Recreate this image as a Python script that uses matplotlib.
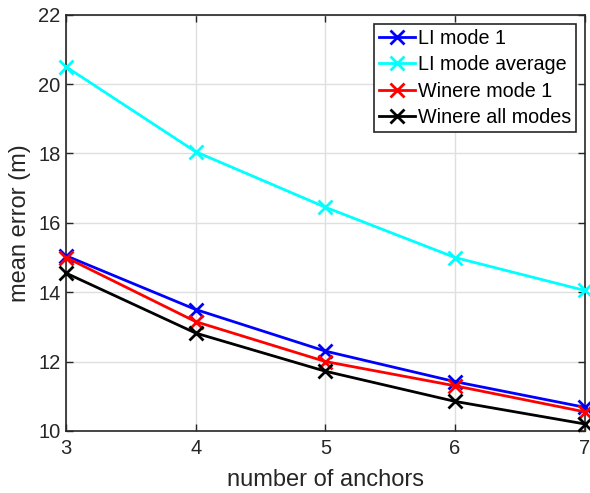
import numpy as np
import matplotlib
matplotlib.use('Agg')
import matplotlib.pyplot as plt

plt.rcParams['font.family'] = ['Liberation Sans', 'DejaVu Sans']

# data
anchors = [3, 4, 5, 6, 7]
li_mode1 = [15.05, 13.5, 12.3, 11.42, 10.68]
li_mode_avg = [20.5, 18.05, 16.45, 15.0, 14.05]
winere_mode1 = [15.0, 13.15, 12.0, 11.3, 10.55]
winere_all = [14.55, 12.82, 11.72, 10.85, 10.2]

series = [
    (li_mode1, 'LI mode 1', '#0000ff'),
    (li_mode_avg, 'LI mode average', '#00ffff'),
    (winere_mode1, 'Winere mode 1', '#ff0000'),
    (winere_all, 'Winere all modes', '#000000'),
]

fig = plt.figure(figsize=(5.9, 4.93), dpi=100)
ax = fig.add_axes([0.112, 0.126, 0.879, 0.844])

for vals, label, col in series:
    ax.plot(anchors, vals, color=col, lw=2, marker='x', ms=10, mew=2, label=label,
            clip_on=False, zorder=3)

ax.set_xlim(3, 7)
ax.set_ylim(10, 22)
ax.set_xticks(anchors)
ax.set_yticks(np.arange(10, 23, 2))
ax.grid(True, color='#dfdfdf', lw=1)
ax.set_axisbelow(True)
ax.tick_params(direction='in', length=5, width=1, labelsize=14.5, colors='#262626',
               top=True, right=True)
ax.tick_params(axis='x', pad=6)
ax.tick_params(axis='y', pad=4)
for sp in ax.spines.values():
    sp.set_color('#262626')
    sp.set_linewidth(1.2)

ax.set_xlabel('number of anchors', fontsize=17, color='#262626', labelpad=8)
ax.set_ylabel('mean error (m)', fontsize=17, color='#262626', labelpad=5)

leg = ax.legend(loc='upper right', fontsize=14.2, frameon=True, fancybox=False,
                edgecolor='#262626', framealpha=1, borderpad=0.25, labelspacing=0.38,
                handlelength=1.8, handletextpad=0.15, borderaxespad=0.45)
leg.get_frame().set_linewidth(1.2)

fig.savefig('out.png', dpi=100)
